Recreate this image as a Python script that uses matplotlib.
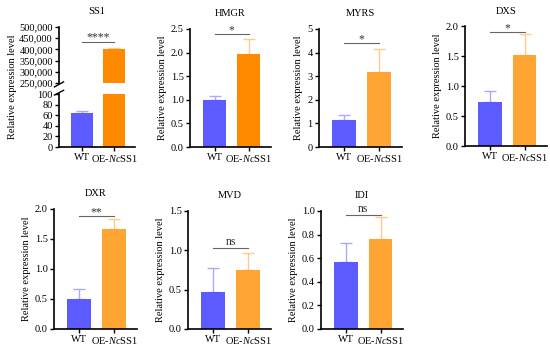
import matplotlib.pyplot as plt
from matplotlib.ticker import FuncFormatter, FormatStrFormatter

plt.rcParams['font.family'] = ['Liberation Serif', 'DejaVu Serif']
plt.rcParams['mathtext.fontset'] = 'custom'
plt.rcParams['mathtext.it'] = 'Liberation Serif:italic'
plt.rcParams['mathtext.rm'] = 'Liberation Serif'

groups = ['WT', 'OE-$\\mathit{Nc}$SS1']

genes = ['SS1', 'HMGR', 'MYRS', 'DXS', 'DXR', 'MVD', 'IDI']
wt_mean = [64, 1.0, 1.15, 0.73, 0.50, 0.47, 0.57]
wt_err = [3, 0.08, 0.22, 0.18, 0.17, 0.30, 0.155]
oe_mean = [400000, 1.97, 3.17, 1.52, 1.66, 0.745, 0.76]
oe_err = [8000, 0.32, 1.0, 0.34, 0.18, 0.225, 0.185]
sig_text = ['****', '*', '*', '*', '**', 'ns', 'ns']
sig_y = [435000, 2.39, 4.4, 1.9, 1.89, 1.035, 0.97]
ymax = [500000, 2.5, 5, 2.0, 2.0, 1.5, 1.0]
ystep = [50000, 0.5, 1, 0.5, 0.5, 0.5, 0.2]

blue = '#5B5BFF'
blue_err = '#A9A9FF'
orange_dark = '#FF8A00'
orange_light = '#FFA534'
orange_err = '#FFCB8A'

# axes boxes in pixels: left, right, top, bottom
boxes = [(59, 135, 27, 147), (190, 271, 29, 147), (319, 402, 29, 147),
         (465, 547, 26, 146), (54, 137, 209, 329), (188, 271, 211, 329),
         (321, 403, 211, 329)]

W, H = 550, 349
fig = plt.figure(figsize=(5.5, 3.49), dpi=100)
fs = 7.5


def make_ax(l, r, t, b):
    return fig.add_axes([l / W, 1 - b / H, (r - l) / W, (b - t) / H])


def style(ax):
    for s in ['top', 'right']:
        ax.spines[s].set_visible(False)
    for s in ['left', 'bottom']:
        ax.spines[s].set_linewidth(1.2)
    ax.tick_params(direction='out', length=3, width=1, labelsize=fs, pad=1.5)
    ax.set_xlim(-0.72, 1.65)


def draw_bars(ax, i):
    oe_col = orange_dark if i < 2 else orange_light
    ax.bar([0, 1], [wt_mean[i], oe_mean[i]], width=0.68,
           color=[blue, oe_col], zorder=2)
    ax.errorbar([0], [wt_mean[i]], yerr=[[0], [wt_err[i]]], fmt='none',
                ecolor=blue_err, elinewidth=1, capsize=4, capthick=1, zorder=1)
    ax.errorbar([1], [oe_mean[i]], yerr=[[0], [oe_err[i]]], fmt='none',
                ecolor=orange_err, elinewidth=1, capsize=4, capthick=1, zorder=1)


def draw_sig(ax, i):
    ax.plot([0, 1], [sig_y[i], sig_y[i]], color='#666666', lw=0.8)
    va_off = 0.0 if sig_text[i] == 'ns' else -0.02
    ax.text(0.5, sig_y[i] + va_off * ymax[i], sig_text[i], ha='center',
            va='bottom', fontsize=fs + 1, color='#333333')


for i, g in enumerate(genes):
    l, r, t, b = boxes[i]
    if i == 0:
        # broken axis: upper part 250,000-500,000, lower part 0-100
        ax_up = make_ax(l, r, t, 83)
        ax_lo = make_ax(l, r, 94, b)
        for ax in (ax_up, ax_lo):
            style(ax)
            draw_bars(ax, i)
        ax_up.set_ylim(250000, 500000)
        ax_up.set_yticks(range(250000, 500001, 50000))
        ax_up.yaxis.set_major_formatter(FuncFormatter(lambda v, p: f'{int(v):,}'))
        ax_up.spines['bottom'].set_visible(False)
        ax_up.tick_params(axis='x', bottom=False, labelbottom=False)
        ax_lo.set_ylim(0, 100)
        ax_lo.set_yticks(range(0, 101, 20))
        ax_lo.set_xticks([0, 1])
        ax_lo.set_xticklabels(groups, fontsize=fs)
        draw_sig(ax_up, i)
        ax_up.set_title(g, fontsize=fs, pad=9)
        # break marks
        kw = dict(color='black', lw=1, clip_on=False)
        ax_up.plot([-0.06, 0.06], [-0.07, 0.02], transform=ax_up.transAxes, **kw)
        ax_lo.plot([-0.06, 0.06], [0.98, 1.07], transform=ax_lo.transAxes, **kw)
        fig.text(13 / W, 1 - 87 / H, 'Relative expression level', rotation=90,
                 ha='center', va='center', fontsize=fs)
        continue
    ax = make_ax(l, r, t, b)
    style(ax)
    draw_bars(ax, i)
    ax.set_ylim(0, ymax[i])
    n = int(round(ymax[i] / ystep[i]))
    ax.set_yticks([k * ystep[i] for k in range(n + 1)])
    if ystep[i] == 1:
        ax.yaxis.set_major_formatter(FormatStrFormatter('%d'))
    else:
        ax.yaxis.set_major_formatter(FormatStrFormatter('%.1f'))
    ax.set_xticks([0, 1])
    ax.set_xticklabels(groups, fontsize=fs)
    ax.set_ylabel('Relative expression level', fontsize=fs, labelpad=3)
    ax.set_title(g, fontsize=fs, pad=9)
    draw_sig(ax, i)

fig.savefig('out.png', dpi=100)
